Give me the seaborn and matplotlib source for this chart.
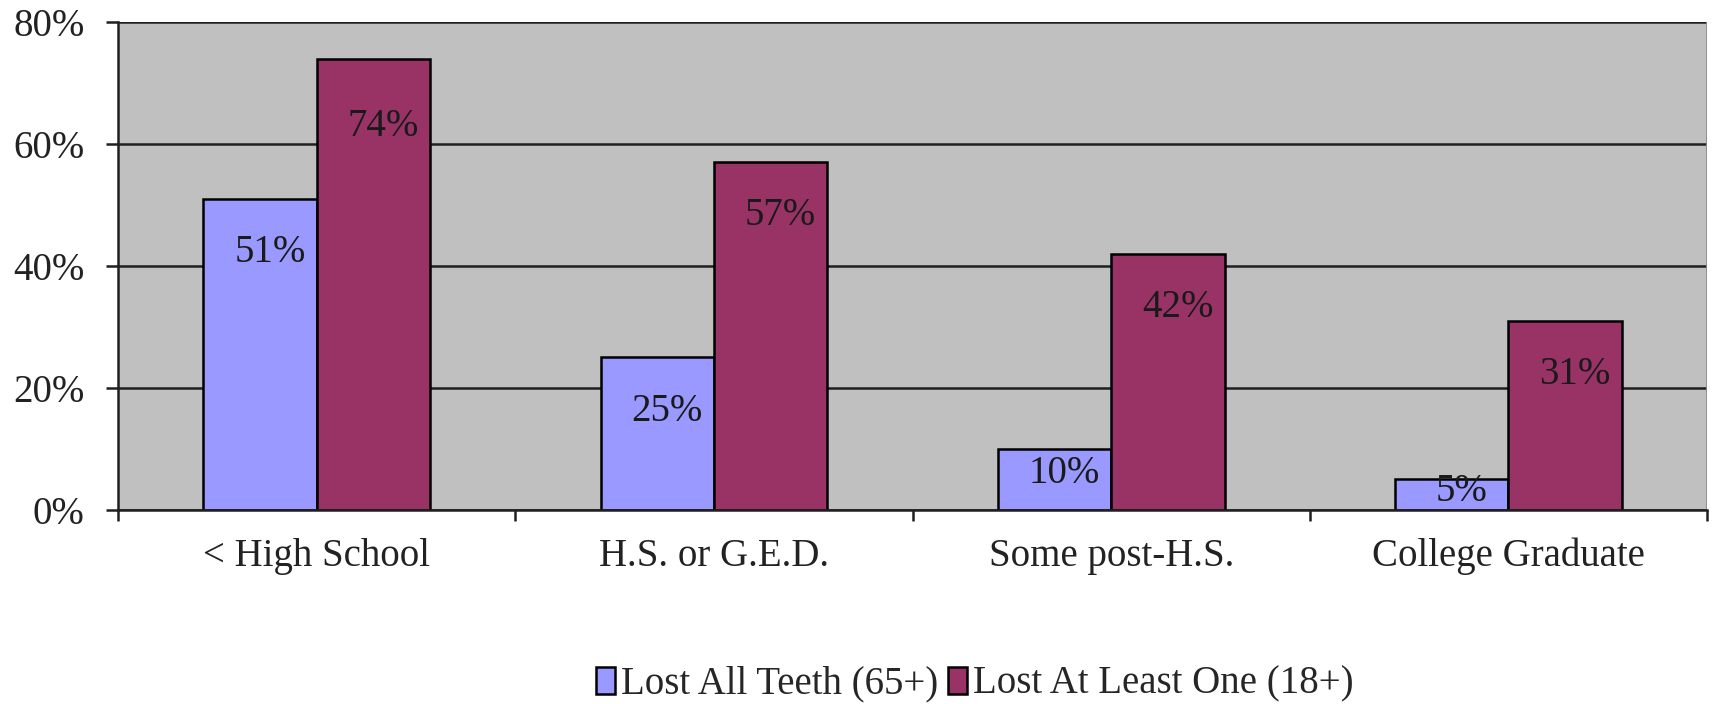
import matplotlib
matplotlib.use('Agg')
import pandas as pd
import matplotlib.pyplot as plt
import seaborn as sns
from matplotlib.ticker import FixedLocator, PercentFormatter

# ======================
# DATA
# ======================
categories = ["< High School", "H.S. or G.E.D.", "Some post-H.S.", "College Graduate"]
lost_all = [51, 25, 10, 5]
lost_one = [74, 57, 42, 31]
series_names = ["Lost All Teeth (65+)", "Lost At Least One (18+)"]
colors = ["#9999FF", "#993366"]

df = pd.DataFrame({
    "category": categories * 2,
    "value": lost_all + lost_one,
    "series": [series_names[0]] * 4 + [series_names[1]] * 4,
})

# ======================
# PLOT
# ======================
sns.set_theme(style="white")
plt.rcParams['font.family'] = ['Liberation Serif', 'DejaVu Serif']

fig = plt.figure(figsize=(17.16, 7.04), dpi=100)
ax = fig.add_axes([0.0688, 0.2756, 0.926, 0.6932])
ax.set_facecolor("#C0C0C0")

sns.barplot(data=df, x="category", y="value", hue="series", palette=colors,
            width=0.571, edgecolor="black", linewidth=1.8, saturation=1, ax=ax)

ax.set_xlim(-0.5, 3.5)
ax.set_ylim(0, 80)
ax.set_yticks([0, 20, 40, 60, 80])
ax.yaxis.set_major_formatter(PercentFormatter(decimals=0))
ax.grid(axis="y", color="#202020", linewidth=1.8)
ax.set_axisbelow(True)
ax.set_xlabel("")
ax.set_ylabel("")

for side in ["top", "right"]:
    ax.spines[side].set_visible(False)
ax.spines["left"].set_color("#202020")
ax.spines["left"].set_linewidth(1.8)
ax.spines["bottom"].set_color("#202020")
ax.spines["bottom"].set_linewidth(1.8)
ax.axvline(3.5, color="#8a8a8a", linewidth=2)

ax.tick_params(axis="y", direction="out", length=9, width=1.8, color="#202020",
               labelsize=28, labelcolor="#222222", left=True, pad=15)
ax.tick_params(axis="x", length=0, labelsize=28, labelcolor="#222222", pad=20)
ax.xaxis.set_minor_locator(FixedLocator([-0.5, 0.5, 1.5, 2.5, 3.5]))
ax.tick_params(axis="x", which="minor", bottom=True, direction="out", length=8,
               width=1.8, color="#202020")

# data labels inside the bars
for cont, vals in zip(ax.containers, [lost_all, lost_one]):
    for bar, v in zip(cont, vals):
        y = max(min(v - 8.8, v * 0.85), v * 0.6)
        ax.text(bar.get_x() + bar.get_width() / 2 + 0.025, y, f"{v}%",
                ha="center", va="center", fontsize=28, color="#1a1a1a")

handles, labels = ax.get_legend_handles_labels()
ax.legend(handles, labels, loc="center", bbox_to_anchor=(0.568, 0.028),
          bbox_transform=fig.transFigure, ncol=2, frameon=False, fontsize=28,
          handlelength=0.5, handleheight=0.7, handletextpad=0.15,
          columnspacing=0.25)

plt.savefig("out.png", dpi=100)
plt.close()
